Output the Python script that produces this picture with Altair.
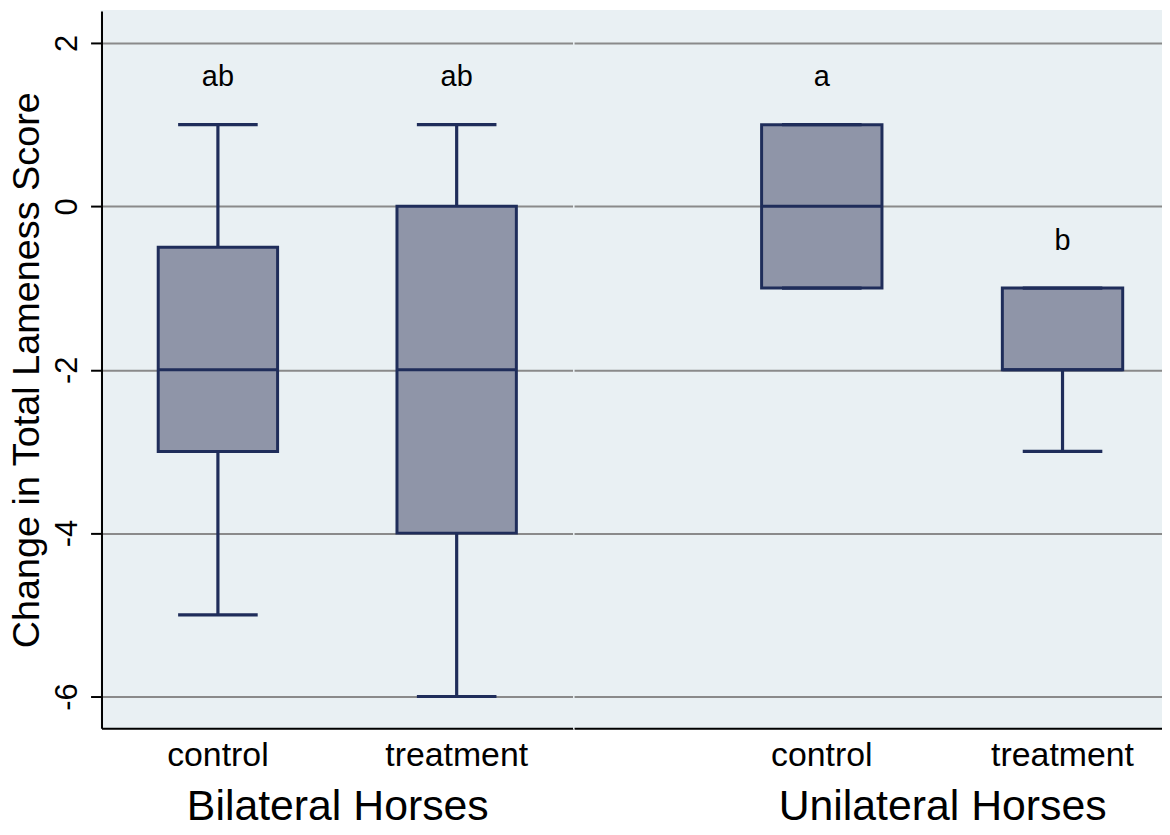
import altair as alt
import pandas as pd

# ---- data ----
groups = ["Bilateral Horses", "Bilateral Horses", "Unilateral Horses", "Unilateral Horses"]
treatments = ["control", "treatment", "control", "treatment"]
mins = [-5, -6, -1, -3]
q1s = [-3, -4, -1, -2]
medians = [-2, -2, 0, -2]
q3s = [-0.5, 0, 1, -1]
maxs = [1, 1, 1, -1]
letters = ["ab", "ab", "a", "b"]
y_ticks = [-6, -4, -2, 0, 2]

df = pd.DataFrame(dict(group=groups, treatment=treatments, lo=mins, q1=q1s,
                       med=medians, q3=q3s, hi=maxs, letter=letters))

FONT = "Liberation Sans"
NAVY = "#1f2d5a"
FILL = "#8f95a8"
BG = "#e9f0f3"
GRID = "#8a8a8a"
YTITLE = "Change in Total Lameness Score"
YDOM = [-6.39, 2.39]
H = 721


def panel(group, width, xscale, bandw, show_y, title_x=None):
    base = alt.Chart(df).transform_filter(alt.datum.group == group)
    xa = dict(title=group, labelFontSize=34, titleFontSize=43, ticks=False,
              labelPadding=10, titlePadding=14, domainColor="black", domainWidth=2,
              labelColor="black", titleColor="black", titleFontWeight="normal",
              labelAngle=0, grid=False, labelFont=FONT, titleFont=FONT)
    if title_x is not None:
        xa["titleX"] = title_x
    x = alt.X("treatment:N", scale=xscale, axis=alt.Axis(**xa))
    if show_y:
        ya = alt.Axis(values=y_ticks, title=YTITLE, labelAngle=270, labelFontSize=31,
                      titleFontSize=38, tickSize=11, tickWidth=2, tickColor="black",
                      domainColor="black", domainWidth=2, gridColor=GRID, gridWidth=2,
                      labelPadding=7, titlePadding=5, labelColor="black",
                      titleColor="black", titleFontWeight="normal",
                      labelExpr="toString(datum.value)",
                      labelFont=FONT, titleFont=FONT)
        ytitle = YTITLE
    else:
        ya = alt.Axis(values=y_ticks, labels=False, ticks=False, domain=False,
                      title=None, grid=True, gridColor=GRID, gridWidth=2)
        ytitle = None
    ysc = alt.Scale(domain=YDOM, nice=False, zero=False)

    def Y(field):
        return alt.Y(field, scale=ysc, axis=ya, title=ytitle)

    whisk = base.mark_rule(color=NAVY, strokeWidth=3.2).encode(
        x=x, y=Y("lo:Q"), y2="hi:Q")
    box = base.mark_bar(fill=FILL, stroke=NAVY, strokeWidth=3).encode(
        x=x, y=Y("q1:Q"), y2="q3:Q")
    med = base.mark_tick(orient="horizontal", size=bandw, thickness=3, color=NAVY, opacity=1).encode(
        x=x, y=Y("med:Q"))
    cap_lo = base.mark_tick(orient="horizontal", size=80, thickness=3.2, color=NAVY, opacity=1).encode(
        x=x, y=Y("lo:Q"))
    cap_hi = base.mark_tick(orient="horizontal", size=80, thickness=3.2, color=NAVY, opacity=1).encode(
        x=x, y=Y("hi:Q"))
    txt = base.transform_calculate(ly="datum.hi + 0.47").mark_text(
        font=FONT, fontSize=29, baseline="alphabetic", color="black").encode(
        x=x, y=Y("ly:Q"), text="letter:N")
    return alt.layer(whisk, box, med, cap_lo, cap_hi, txt).properties(width=width, height=H)


p1 = panel("Bilateral Horses", 474,
           alt.Scale(domain=["control", "treatment"], paddingInner=0.5, paddingOuter=0.2375),
           120, True)
p2 = panel("Unilateral Horses", 591,
           alt.Scale(domain=["control", "treatment"], paddingInner=0.5, paddingOuter=0.4711, align=0.8268),
           121, False, title_x=370)

chart = alt.hconcat(p1, p2, spacing=-6).configure_view(
    fill=BG, stroke=BG, strokeWidth=2).properties(
    padding={"left": 0, "top": 0, "right": -1, "bottom": -10})

chart.save("out.html", embed_options={"renderer": "svg", "actions": False})
